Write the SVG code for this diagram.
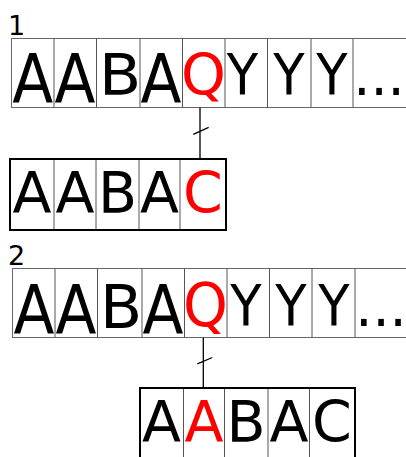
<svg xmlns="http://www.w3.org/2000/svg" width="406" height="457" viewBox="0 0 406 457">
<style>
.cell{fill:#fff;stroke:#666;stroke-width:1}
.div{stroke:#555;stroke-width:1}
.box{fill:none;stroke:#000;stroke-width:2}
.big{font-family:"DejaVu Sans",sans-serif;font-size:57px;fill:#000;text-anchor:middle}
.small{font-family:"DejaVu Sans",sans-serif;font-size:57px;fill:#000;text-anchor:middle}
.lbl{font-family:"DejaVu Sans",sans-serif;font-size:27px;fill:#000}
.red{fill:#ff0000}
.conn{stroke:#000;stroke-width:1.3;fill:none}
</style>
<rect width="406" height="457" fill="#fff"/>

<g id="label1"><text class="lbl" x="8" y="35">1</text></g>
<g id="row1">
<rect class="cell" x="11.5" y="38.5" width="400" height="69"/>
<path class="div" d="M54 38.5V107.5M96.5 38.5V107.5M140 38.5V107.5M182.5 38.5V107.5M225 38.5V107.5M267.5 38.5V107.5M311 38.5V107.5M353 38.5V107.5"/>
<text class="big" transform="translate(32.7,103) scale(1.05,1.2)">A</text>
<text class="big" transform="translate(75,103) scale(1.05,1.2)">A</text>
<text class="big" transform="translate(161,103) scale(1.05,1.2)">A</text>
<text class="big" transform="translate(120,95) scale(1.08,1)">B</text>
<text class="big red" x="203.5" y="95">Q</text>
<text class="big" transform="translate(242.5,95) scale(0.9,1)">Y</text>
<text class="big" transform="translate(289,95) scale(0.9,1)">Y</text>
<text class="big" transform="translate(332,95) scale(0.9,1)">Y</text>
<text class="big" transform="translate(379,95) scale(0.95,1)">...</text>
</g>

<g id="box1">
<path class="div" d="M54 160V230M96 160V230M139 160V230M180 160V230"/>
<rect class="box" x="10" y="159" width="216" height="71"/>
<g transform="translate(0,212.7)">
<text class="small" x="32">A</text>
<text class="small" x="75">A</text>
<text class="small" x="117.5">B</text>
<text class="small" x="159.5">A</text>
<text class="small red" x="203">C</text>
</g>
</g>

<g id="label2"><text class="lbl" x="8" y="265">2</text></g>
<g id="row2">
<rect class="cell" x="12.5" y="268.5" width="400" height="69"/>
<path class="div" d="M55 268.5V337.5M97.5 268.5V337.5M142 268.5V337.5M184.5 268.5V337.5M227 268.5V337.5M269.5 268.5V337.5M312 268.5V337.5M355 268.5V337.5"/>
<text class="big" transform="translate(34,334) scale(1.05,1.18)">A</text>
<text class="big" transform="translate(76,334) scale(1.05,1.18)">A</text>
<text class="big" transform="translate(163,334) scale(1.05,1.18)">A</text>
<text class="big" transform="translate(121,328) scale(1.08,1.05)">B</text>
<text class="big red" transform="translate(205.5,326) scale(1,1.05)">Q</text>
<text class="big" transform="translate(246,326) scale(0.9,1)">Y</text>
<text class="big" transform="translate(291,326) scale(0.9,1)">Y</text>
<text class="big" transform="translate(334,326) scale(0.9,1)">Y</text>
<text class="big" transform="translate(381,326) scale(0.95,1)">...</text>
</g>

<g id="box2">
<path class="div" d="M183.5 389V470M224.5 389V470M268 389V470M309.5 389V470"/>
<rect class="box" x="140" y="388" width="215" height="90"/>
<g transform="translate(0,441.7)">
<text class="small" x="161.5">A</text>
<text class="small red" x="204">A</text>
<text class="small" x="246">B</text>
<text class="small" x="289">A</text>
<text class="small" x="332">C</text>
</g>
</g>

<g id="connectors">
<path class="conn" d="M200 107.5V159M193.3 134.3L208.7 127.3"/>
<path class="conn" d="M203.3 337.5V388M197.3 363.8L212.3 357.5"/>
</g>
</svg>
